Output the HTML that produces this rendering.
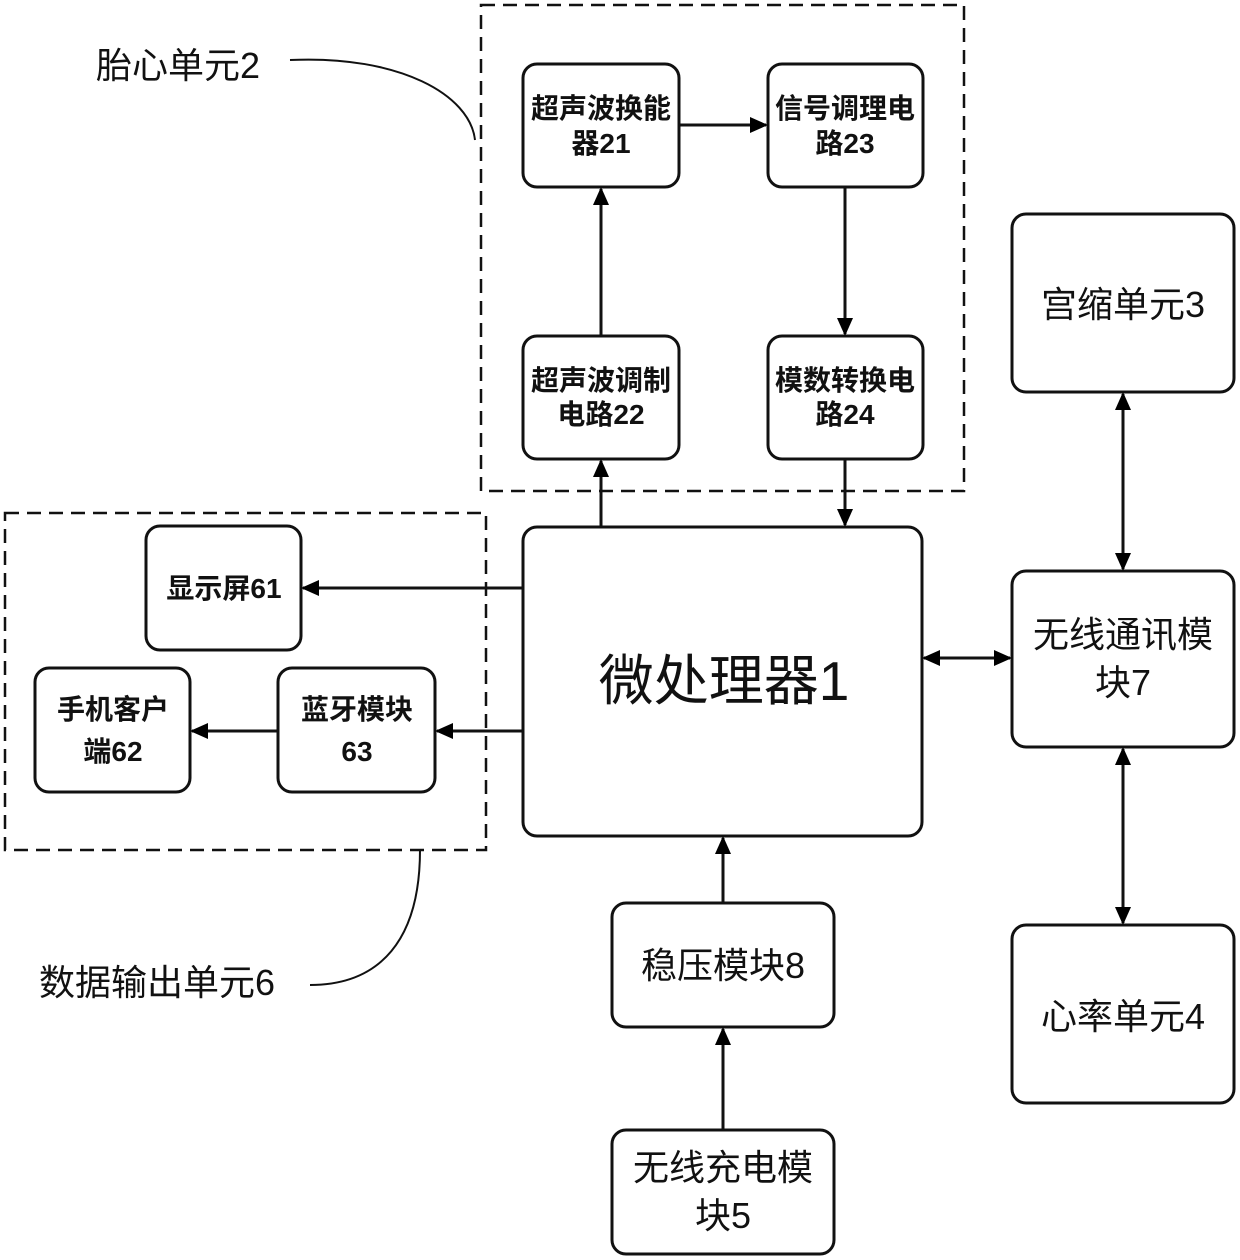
<!DOCTYPE html>
<html><head><meta charset="utf-8"><style>
html,body{margin:0;padding:0;background:#fff;}
svg{display:block;}
text{font-family:"Liberation Sans","Noto Sans CJK SC",sans-serif;fill:#111;text-anchor:middle;}
.b{font-weight:bold;font-size:28px;}
.m{font-size:36px;}
</style></head><body>
<svg width="1240" height="1260" viewBox="0 0 1240 1260" xmlns="http://www.w3.org/2000/svg">
<defs>
<marker id="s" markerWidth="18" markerHeight="18" refX="16" refY="9" orient="auto-start-reverse" markerUnits="userSpaceOnUse" viewBox="0 0 18 18">
<path d="M0,1 L18,9 L0,17 z" fill="#000"/></marker>
</defs>
<g fill="none" stroke="#111" stroke-width="2.5" stroke-dasharray="14,8">
<rect x="481" y="5" width="483" height="486"/>
<rect x="5" y="513" width="481" height="337"/>
</g>
<g fill="#fff" stroke="#111" stroke-width="3">
<rect x="523" y="64" width="156" height="123" rx="14"/>
<rect x="768" y="64" width="155" height="123" rx="14"/>
<rect x="523" y="336" width="156" height="123" rx="14"/>
<rect x="768" y="336" width="155" height="123" rx="14"/>
<rect x="523" y="527" width="399" height="309" rx="14"/>
<rect x="146" y="526" width="155" height="124" rx="14"/>
<rect x="35" y="668" width="155" height="124" rx="14"/>
<rect x="278" y="668" width="157" height="124" rx="14"/>
<rect x="1012" y="214" width="222" height="178" rx="14"/>
<rect x="1012" y="571" width="222" height="176" rx="14"/>
<rect x="1012" y="925" width="222" height="178" rx="14"/>
<rect x="612" y="903" width="222" height="124" rx="14"/>
<rect x="612" y="1130" width="222" height="124" rx="14"/>
</g>
<g stroke="#111" stroke-width="3" fill="none">
<line x1="679" y1="125" x2="766" y2="125" marker-end="url(#s)"/>
<line x1="845" y1="187" x2="845" y2="334" marker-end="url(#s)"/>
<line x1="601" y1="336" x2="601" y2="189" marker-end="url(#s)"/>
<line x1="601" y1="527" x2="601" y2="461" marker-end="url(#s)"/>
<line x1="845" y1="459" x2="845" y2="525" marker-end="url(#s)"/>
<line x1="523" y1="588" x2="303" y2="588" marker-end="url(#s)"/>
<line x1="523" y1="731" x2="437" y2="731" marker-end="url(#s)"/>
<line x1="278" y1="731" x2="192" y2="731" marker-end="url(#s)"/>
<line x1="924" y1="658" x2="1010" y2="658" marker-start="url(#s)" marker-end="url(#s)"/>
<line x1="1123" y1="394" x2="1123" y2="569" marker-start="url(#s)" marker-end="url(#s)"/>
<line x1="1123" y1="749" x2="1123" y2="923" marker-start="url(#s)" marker-end="url(#s)"/>
<line x1="723" y1="903" x2="723" y2="838" marker-end="url(#s)"/>
<line x1="723" y1="1130" x2="723" y2="1029" marker-end="url(#s)"/>
<path d="M290,60 C400,55 470,95 475,140" stroke-width="2"/>
<path d="M310,985 C380,985 420,940 420,850" stroke-width="2"/>
</g>
<text class="b" x="601" y="118">超声波换能</text>
<text class="b" x="601" y="153">器21</text>
<text class="b" x="845" y="118">信号调理电</text>
<text class="b" x="845" y="153">路23</text>
<text class="b" x="601" y="390">超声波调制</text>
<text class="b" x="601" y="424">电路22</text>
<text class="b" x="845" y="390">模数转换电</text>
<text class="b" x="845" y="424">路24</text>
<text x="724" y="700" style="font-size:55px">微处理器1</text>
<text class="b" x="224" y="598">显示屏61</text>
<text class="b" x="113" y="719">手机客户</text>
<text class="b" x="113" y="761">端62</text>
<text class="b" x="357" y="719">蓝牙模块</text>
<text class="b" x="357" y="761">63</text>
<text class="m" x="1123" y="317">宫缩单元3</text>
<text class="m" x="1123" y="647">无线通讯模</text>
<text class="m" x="1123" y="695">块7</text>
<text class="m" x="1123" y="1029">心率单元4</text>
<text class="m" x="723" y="978">稳压模块8</text>
<text class="m" x="723" y="1180">无线充电模</text>
<text class="m" x="723" y="1228">块5</text>
<text class="m" x="178" y="78">胎心单元2</text>
<text class="m" x="157" y="995">数据输出单元6</text>
</svg>
</body></html>
